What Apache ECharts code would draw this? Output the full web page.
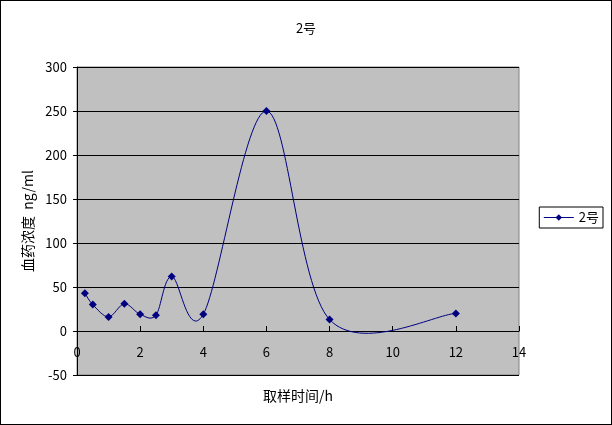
<!DOCTYPE html>
<html>
<head>
<meta charset="utf-8">
<script src="https://cdn.jsdelivr.net/npm/echarts@6/dist/echarts.min.js"></script>
<style>
  html, body { margin: 0; padding: 0; background: #fff; }
  #chart { width: 610px; height: 423px; border: 1px solid #000; }
</style>
</head>
<body>
<div id="chart"></div>
<script>
var myChart = echarts.init(document.getElementById('chart'))

// 数据
var seriesName = '2号'
var times = [0.25, 0.5, 1, 1.5, 2, 2.5, 3, 4, 6, 8, 12]
var concs = [43, 30, 16, 31, 19, 18, 62, 19, 250, 13, 20]

var font = '"Noto Sans CJK SC", sans-serif'
var lineColor = '#000080'

// 绘图区高度 308px 对应 -50..300，x 轴放在 y=0 处
var yMin = -50, yMax = 300, plotH = 308
var xAxisOffset = -Math.round(plotH * (0 - yMin) / (yMax - yMin))

var points = times.map(function (t, i) { return [t, concs[i]] })

// Excel 式平滑曲线：每段用 Catmull-Rom 转成贝塞尔，坐标由 api.coord 换算
function renderSpline(params, api) {
  var i = params.dataIndex
  var n = points.length
  if (i >= n - 1) return null
  var p0 = api.coord(points[Math.max(i - 1, 0)])
  var p1 = api.coord(points[i])
  var p2 = api.coord(points[i + 1])
  var p3 = api.coord(points[Math.min(i + 2, n - 1)])
  return {
    type: 'bezierCurve',
    shape: {
      x1: p1[0], y1: p1[1],
      x2: p2[0], y2: p2[1],
      cpx1: p1[0] + (p2[0] - p0[0]) / 6,
      cpy1: p1[1] + (p2[1] - p0[1]) / 6,
      cpx2: p2[0] - (p3[0] - p1[0]) / 6,
      cpy2: p2[1] - (p3[1] - p1[1]) / 6,
    },
    style: { stroke: lineColor, fill: null, lineWidth: 1 },
    silent: true,
  }
}

var option = {
  animation: false,
  title: {
    text: seriesName,
    left: 'center',
    top: 16,
    textStyle: { fontSize: 13, fontWeight: 'normal', color: '#000', fontFamily: font },
  },
  legend: {
    data: [seriesName],
    orient: 'vertical',
    right: 8,
    top: 206,
    backgroundColor: '#fff',
    borderColor: '#000',
    borderWidth: 1,
    borderRadius: 0,
    padding: [4, 4, 4, 4],
    itemWidth: 30,
    itemHeight: 8,
    itemGap: 4,
    lineStyle: { color: lineColor, width: 1, opacity: 1 },
    textStyle: { fontSize: 13, color: '#000', fontFamily: font },
  },
  grid: {
    left: 76,
    top: 66,
    right: 92,
    height: plotH,
    containLabel: false,
    outerBoundsMode: 'none',
    show: true,
    backgroundColor: '#c0c0c0',
    borderColor: '#808080',
    borderWidth: 1,
  },
  xAxis: {
    type: 'value',
    min: 0,
    max: 14,
    interval: 2,
    position: 'bottom',
    offset: xAxisOffset,
    name: '取样时间/h',
    nameLocation: 'middle',
    nameGap: 58,
    nameTextStyle: { fontSize: 14, color: '#000', fontFamily: font },
    axisLine: { show: true, onZero: false, lineStyle: { color: '#000', width: 1 } },
    axisTick: { inside: true, length: 5, lineStyle: { color: '#000' } },
    axisLabel: { fontSize: 13, color: '#000', margin: 15, fontFamily: font },
    splitLine: { show: false },
  },
  yAxis: {
    type: 'value',
    min: yMin,
    max: yMax,
    interval: 50,
    name: '血药浓度  ng/ml',
    nameLocation: 'middle',
    nameGap: 40,
    nameRotate: 90,
    nameTextStyle: { fontSize: 14, color: '#000', fontFamily: font },
    axisLine: { show: true, onZero: false, lineStyle: { color: '#000', width: 1 } },
    axisTick: { show: true, length: 4, lineStyle: { color: '#000' } },
    axisLabel: { fontSize: 13, color: '#000', margin: 10, fontFamily: font },
    splitLine: { show: true, lineStyle: { color: '#000', width: 1 } },
  },
  series: [
    {
      name: 'spline',
      type: 'custom',
      data: points,
      encode: { x: 0, y: 1 },
      renderItem: renderSpline,
      z: 1,
    },
    {
      name: seriesName,
      type: 'line',
      data: points,
      symbol: 'diamond',
      symbolSize: 8,
      itemStyle: { color: lineColor },
      lineStyle: { color: lineColor, width: 1, opacity: 0 },
      z: 3,
    },
  ],
}

myChart.setOption(option)
</script>
</body>
</html>
